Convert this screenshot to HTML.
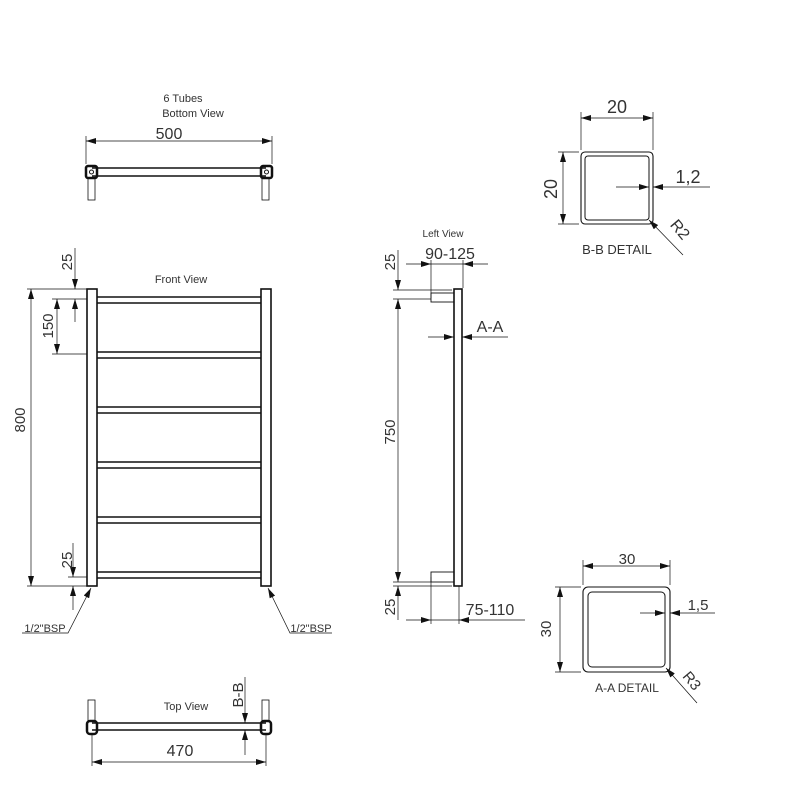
<!DOCTYPE html>
<html><head><style>body{margin:0;background:#fff}svg{display:block}text{font-family:"Liberation Sans",sans-serif;fill:#333}</style></head><body>
<svg width="800" height="800" viewBox="0 0 800 800" xmlns="http://www.w3.org/2000/svg">
<defs>
<marker id="a" viewBox="0 0 10 6" refX="10" refY="3" markerWidth="10" markerHeight="6" markerUnits="userSpaceOnUse" orient="auto-start-reverse"><path d="M0,0L10,3L0,6z" fill="#111"/></marker>
</defs>
<g stroke="#111" fill="none">
<!-- Bottom view -->
<g stroke-width="1.6">
<line x1="92" y1="168" x2="266" y2="168"/><line x1="92" y1="176" x2="266" y2="176"/>
<rect x="86" y="166" width="11" height="12" rx="2" stroke-width="2.5"/><rect x="261" y="166" width="11" height="12" rx="2" stroke-width="2.5"/>
</g>
<circle cx="91.5" cy="172" r="2"/><circle cx="266.5" cy="172" r="2"/>
<rect x="88" y="178" width="7" height="22" stroke-width="0.8"/><rect x="262" y="178" width="7" height="22" stroke-width="0.8"/>
<g stroke-width="0.7"><line x1="86" y1="136" x2="86" y2="164"/><line x1="272" y1="136" x2="272" y2="164"/></g>
<line x1="86" y1="141" x2="272" y2="141" stroke-width="0.8" marker-start="url(#a)" marker-end="url(#a)"/>

<!-- Front view -->
<g stroke-width="1.6">
<rect x="87" y="289" width="10" height="297"/><rect x="261" y="289" width="10" height="297"/>
<line x1="97" y1="297" x2="261" y2="297"/><line x1="97" y1="303" x2="261" y2="303"/>
<line x1="97" y1="352" x2="261" y2="352"/><line x1="97" y1="358" x2="261" y2="358"/>
<line x1="97" y1="407" x2="261" y2="407"/><line x1="97" y1="413" x2="261" y2="413"/>
<line x1="97" y1="462" x2="261" y2="462"/><line x1="97" y1="468" x2="261" y2="468"/>
<line x1="97" y1="517" x2="261" y2="517"/><line x1="97" y1="523" x2="261" y2="523"/>
<line x1="97" y1="572" x2="261" y2="572"/><line x1="97" y1="578" x2="261" y2="578"/>
</g>
<g stroke-width="0.7">
<line x1="27" y1="289" x2="87" y2="289"/><line x1="27" y1="586" x2="87" y2="586"/>
<line x1="52" y1="299" x2="87" y2="299"/><line x1="52" y1="354" x2="87" y2="354"/>
<line x1="68" y1="577" x2="87" y2="577"/>
<line x1="75" y1="248" x2="75" y2="289" marker-end="url(#a)"/><line x1="75" y1="322" x2="75" y2="299" marker-end="url(#a)"/>
<line x1="73" y1="543" x2="73" y2="577" marker-end="url(#a)"/><line x1="73" y1="610" x2="73" y2="586" marker-end="url(#a)"/>
<line x1="31" y1="289" x2="31" y2="586" marker-start="url(#a)" marker-end="url(#a)"/>
<line x1="57" y1="299" x2="57" y2="354" marker-start="url(#a)" marker-end="url(#a)"/>
<polyline points="22,633 68,633 91,588" marker-end="url(#a)"/>
<polyline points="332,633 290,633 268,588" marker-end="url(#a)"/>
</g>

<!-- Top view -->
<g stroke-width="1.6">
<line x1="92" y1="723" x2="266" y2="723"/><line x1="92" y1="730" x2="266" y2="730"/>
<rect x="87" y="721" width="10" height="13" rx="3" stroke-width="2.5"/><rect x="261" y="721" width="10" height="13" rx="3" stroke-width="2.5"/>
</g>
<rect x="88" y="700" width="7" height="21" stroke-width="0.8"/><rect x="262" y="700" width="7" height="21" stroke-width="0.8"/>
<g stroke-width="0.7">
<line x1="92" y1="735" x2="92" y2="766"/><line x1="266" y1="735" x2="266" y2="766"/>
<line x1="92" y1="762" x2="266" y2="762" marker-start="url(#a)" marker-end="url(#a)"/>
<line x1="245" y1="677" x2="245" y2="723" marker-end="url(#a)"/><line x1="245" y1="755" x2="245" y2="730" marker-end="url(#a)"/>
</g>

<!-- Left view -->
<rect x="454" y="289" width="8" height="297" stroke-width="1.6"/>
<g stroke-width="0.9"><rect x="431" y="293" width="23" height="9"/><rect x="431" y="572" width="23" height="10"/></g>
<g stroke-width="0.7">
<line x1="393" y1="290" x2="452" y2="290"/><line x1="393" y1="299" x2="431" y2="299"/>
<line x1="393" y1="582" x2="431" y2="582"/><line x1="393" y1="586" x2="452" y2="586"/>
<line x1="398" y1="250" x2="398" y2="290" marker-end="url(#a)"/>
<line x1="398" y1="299" x2="398" y2="582" marker-start="url(#a)" marker-end="url(#a)"/>
<line x1="398" y1="620" x2="398" y2="586" marker-end="url(#a)"/>
<line x1="431" y1="260" x2="431" y2="298"/><line x1="463" y1="260" x2="463" y2="288"/>
<line x1="406" y1="264" x2="431" y2="264" marker-end="url(#a)"/><line x1="488" y1="264" x2="463" y2="264" marker-end="url(#a)"/><line x1="431" y1="264" x2="463" y2="264"/>
<line x1="428" y1="337" x2="454" y2="337" marker-end="url(#a)"/><line x1="508" y1="337" x2="462" y2="337" marker-end="url(#a)"/>
<line x1="431" y1="577" x2="431" y2="624"/><line x1="459" y1="586" x2="459" y2="624"/>
<line x1="406" y1="620" x2="431" y2="620" marker-end="url(#a)"/><line x1="525" y1="620" x2="459" y2="620" marker-end="url(#a)"/><line x1="431" y1="620" x2="459" y2="620"/>
</g>

<!-- B-B detail -->
<rect x="581" y="152" width="72" height="72" rx="4" stroke-width="1.1"/>
<rect x="585" y="156" width="64" height="64" rx="3" stroke-width="1"/>
<g stroke-width="0.7">
<line x1="581" y1="112" x2="581" y2="150"/><line x1="653" y1="112" x2="653" y2="150"/>
<line x1="581" y1="118" x2="653" y2="118" marker-start="url(#a)" marker-end="url(#a)"/>
<line x1="558" y1="152" x2="579" y2="152"/><line x1="558" y1="224" x2="579" y2="224"/>
<line x1="563" y1="152" x2="563" y2="224" marker-start="url(#a)" marker-end="url(#a)"/>
<line x1="616" y1="187" x2="649" y2="187" marker-end="url(#a)"/><line x1="710" y1="187" x2="653" y2="187" marker-end="url(#a)"/>
<line x1="683" y1="255" x2="649" y2="220" marker-end="url(#a)"/>
</g>

<!-- A-A detail -->
<rect x="583" y="587" width="87" height="85" rx="5" stroke-width="1.1"/>
<rect x="588" y="592" width="77" height="75" rx="4" stroke-width="1"/>
<g stroke-width="0.7">
<line x1="583" y1="560" x2="583" y2="585"/><line x1="670" y1="560" x2="670" y2="585"/>
<line x1="583" y1="566" x2="670" y2="566" marker-start="url(#a)" marker-end="url(#a)"/>
<line x1="555" y1="587" x2="581" y2="587"/><line x1="555" y1="672" x2="581" y2="672"/>
<line x1="560" y1="587" x2="560" y2="672" marker-start="url(#a)" marker-end="url(#a)"/>
<line x1="640" y1="613" x2="665" y2="613" marker-end="url(#a)"/><line x1="715" y1="613" x2="670" y2="613" marker-end="url(#a)"/>
<line x1="697" y1="703" x2="666" y2="668" marker-end="url(#a)"/>
</g>
</g>

<!-- Text -->
<g font-size="11" text-anchor="middle">
<text x="183" y="102">6 Tubes</text><text x="193" y="117">Bottom View</text>
<text x="181" y="283">Front View</text>
<text x="186" y="710">Top View</text>
<text x="443" y="237" font-size="10">Left View</text>
<text x="45" y="632">1/2"BSP</text>
<text x="311" y="632">1/2"BSP</text>
<text x="617" y="254" font-size="13">B-B DETAIL</text>
<text x="627" y="692" font-size="12">A-A DETAIL</text>
</g>
<g font-size="15" text-anchor="middle">
<text x="169" y="139" font-size="16">500</text>
<text x="180" y="756" font-size="16">470</text>
<text x="450" y="259" font-size="16">90-125</text>
<text x="490" y="332" font-size="16">A-A</text>
<text x="490" y="615" font-size="16">75-110</text>
<text x="617" y="113" font-size="18">20</text>
<text x="688" y="183" font-size="18">1,2</text>
<text x="627" y="564">30</text>
<text x="698" y="610">1,5</text>
<text transform="translate(25,420) rotate(-90)">800</text>
<text transform="translate(53,326) rotate(-90)">150</text>
<text transform="translate(72,262) rotate(-90)">25</text>
<text transform="translate(72,560) rotate(-90)">25</text>
<text transform="translate(395,262) rotate(-90)">25</text>
<text transform="translate(395,607) rotate(-90)">25</text>
<text transform="translate(395,432) rotate(-90)">750</text>
<text transform="translate(243,695) rotate(-90)">B-B</text>
<text transform="translate(557,189) rotate(-90)" font-size="18">20</text>
<text transform="translate(551,629) rotate(-90)">30</text>
<text transform="translate(676,233) rotate(50)" font-size="16">R2</text>
<text transform="translate(688,684) rotate(50)">R3</text>
</g>
</svg>
</body></html>
